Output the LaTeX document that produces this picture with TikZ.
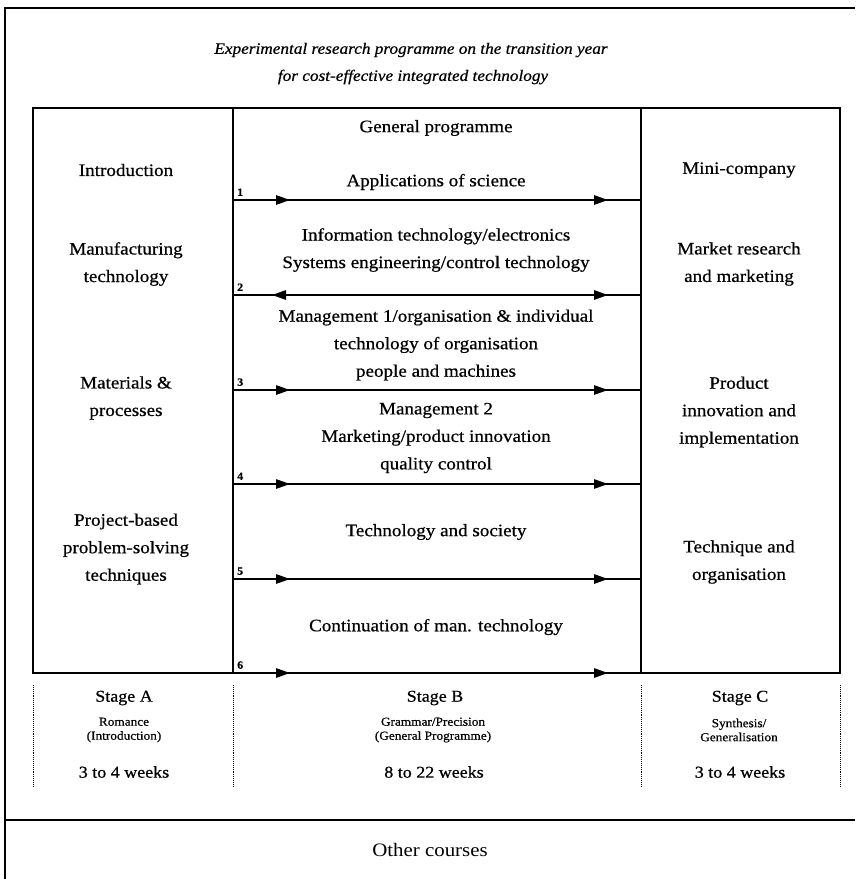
\documentclass[tikz,border=0pt]{standalone}
\usepackage{fontspec}
\setmainfont{Liberation Serif}[FakeStretch=1.09,FakeBold=0.6]
\newfontfamily\plainfont{Liberation Serif}[FakeStretch=1.1]
\usetikzlibrary{arrows.meta,decorations.markings}

\begin{document}
\begin{tikzpicture}[x=1pt,y=-1pt,
    frame/.style={line width=2.2pt},
    box/.style={line width=1.3pt},
    sep/.style={densely dotted,line width=0.9pt},
    txt/.style={align=center,inner sep=0pt,font=\fontsize{17.5}{27.5}\selectfont},
    title/.style={inner sep=0pt,font=\fontsize{15.8}{18}\selectfont\itshape},
    small/.style={align=center,inner sep=0pt,font=\fontsize{12.2}{14}\selectfont},
    stage/.style={inner sep=0pt,font=\fontsize{16.5}{18}\selectfont},
    other/.style={inner sep=0pt,font=\fontsize{19}{22}\plainfont},
    num/.style={anchor=south west,inner sep=0pt,xshift=4pt,yshift=4pt,font=\fontsize{11}{12}\selectfont\bfseries},
    head/.tip={Triangle[length=14pt,width=9.5pt]},
    flow/.style={box,decoration={markings,
        mark=at position 57pt with {\arrow{head}},
        mark=at position 375pt with {\arrow{head}}},postaction={decorate}},
    flowboth/.style={box,decoration={markings,
        mark=at position 39pt with {\arrowreversed{head}},
        mark=at position 375pt with {\arrow{head}}},postaction={decorate}}
    ]
    \useasboundingbox (0,0) rectangle (855,879);
    \draw[frame] (5,879) -- (5,8) -- (855,8);
    \draw[frame] (5,820) -- (855,820);

    \node[title] (t1) at (411,50) {Experimental research programme on the transition year};
    \node[title] (t2) at (413,77) {for cost-effective integrated technology};

    \draw[box] (33,108) rectangle (840,673);
    \draw[box] (233,108) -- (233,673);
    \draw[box] (641,108) -- (641,673);

    \foreach \n/\y in {1/200,2/295,3/390,4/484,5/579,6/673} {
        \coordinate (w\n) at (233,\y);
        \coordinate (e\n) at (641,\y);
        \node[num] (n\n) at (w\n) {\n};
    }
    \draw[flow] (w1) -- (e1);
    \draw[flowboth] (w2) -- (e2);
    \foreach \n in {3,...,6}
        \draw[flow] (w\n) -- (e\n);

    \node[txt] (gp) at (436,128) {General programme};
    \node[txt] (m1) at (436,182) {Applications of science};
    \node[txt] (m2) at (436,250) {Information technology/electronics\\Systems engineering/control technology};
    \node[txt] (m3) at (436,345) {Management 1/organisation \& individual\\technology of organisation\\people and machines};
    \node[txt] (m4) at (436,438) {Management 2\\Marketing/product innovation\\quality control};
    \node[txt] (m5) at (436,532) {Technology and society};
    \node[txt] (m6) at (436,627) {Continuation of man. technology};

    \node[txt] (l1) at (126,170) {Introduction};
    \node[txt] (l2) at (126,264) {Manufacturing\\technology};
    \node[txt] (l3) at (126,398) {Materials \&\\processes};
    \node[txt] (l4) at (126,549) {Project-based\\problem-solving\\techniques};

    \node[txt] (r1) at (739,170) {Mini-company};
    \node[txt] (r2) at (739,264) {Market research\\and marketing};
    \node[txt] (r3) at (739,412) {Product\\innovation and\\implementation};
    \node[txt] (r4) at (739,562) {Technique and\\organisation};

    \foreach \x in {33,233,641,840}
        \draw[sep] (\x,685) -- (\x,787);

    \node[stage] (sa) at (124,698) {Stage A};
    \node[small] (sa2) at (124,730) {Romance\\(Introduction)};
    \node[stage] (wa) at (124,772) {3 to 4 weeks};
    \node[stage] (sb) at (435,698) {Stage B};
    \node[small] (sb2) at (433,730) {Grammar/Precision\\(General Programme)};
    \node[stage] (wb) at (434,772) {8 to 22 weeks};
    \node[stage] (sc) at (740,698) {Stage C};
    \node[small] (sc2) at (739,730) {Synthesis/\\Generalisation};
    \node[stage] (wc) at (740,772) {3 to 4 weeks};

    \node[other] (oc) at (430,850) {Other courses};
\end{tikzpicture}
\end{document}
